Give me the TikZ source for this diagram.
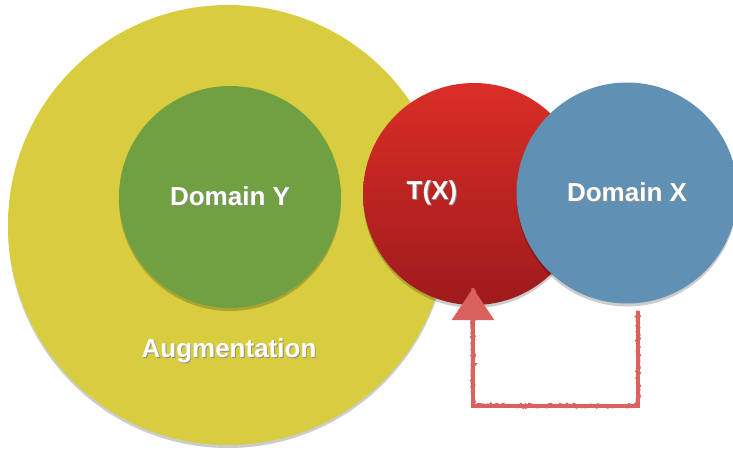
\documentclass[tikz,border=0pt]{standalone}
\usepackage{fontspec}
\setmainfont{Liberation Sans}
\usetikzlibrary{arrows.meta,decorations.pathmorphing,shadows}

\definecolor{augyellow}{RGB}{216,205,62}
\definecolor{ygreen}{RGB}{112,160,66}
\definecolor{xblue}{RGB}{96,145,180}
\definecolor{txtop}{RGB}{218,46,38}
\definecolor{txbottom}{RGB}{158,26,28}
\definecolor{arrowred}{RGB}{217,98,92}

% white label with a soft dark drop shadow
\newcommand\shtext[1]{\leavevmode\rlap{\kern0.9pt\raisebox{-1.3pt}{\color{black!45}#1}}#1}

\begin{document}
\begin{tikzpicture}[x=1pt,y=-1pt,
  disc/.style={circle, inner sep=0pt, draw=none,
    general shadow={fill=black, opacity=0.2, shadow xshift=0pt, shadow yshift=-3pt}},
  lbl/.style={text=white, font=\bfseries\fontsize{26}{30}\selectfont},
  flow/.style={draw=arrowred, line width=3.8pt, line join=miter,
    -{Triangle[width=42pt,length=32pt]},
    postaction={draw=arrowred, line width=3pt, -,
      decorate, decoration={random steps, segment length=2pt, amplitude=1.4pt}}}]
\useasboundingbox (0,0) rectangle (733,451);

% outer augmentation disc and the target domain inside it
\node[disc, fill=augyellow, minimum size=440pt] (aug) at (228,225) {};
\node[disc, fill=ygreen, minimum size=222pt, lbl] (domy) at (230,197) {\shtext{Domain Y}};
\node[lbl] (auglbl) at (229,351) {\shtext{Augmentation}};

% transformed source and the source domain
\node[disc, top color=txtop, bottom color=txbottom, minimum size=222pt] (tx) at (474,194) {};
\node[lbl] (txlbl) at (432,193) {\shtext{T(X)}};
\node[disc, fill=xblue, minimum size=221pt, lbl] (domx) at (627,193) {\shtext{Domain X}};

% mapping from X to T(X)
\draw[flow] ([xshift=11pt,yshift=-7pt]domx.south) -- ++(0,95) -| ([xshift=-1pt,yshift=17pt]tx.south);
\end{tikzpicture}
\end{document}
